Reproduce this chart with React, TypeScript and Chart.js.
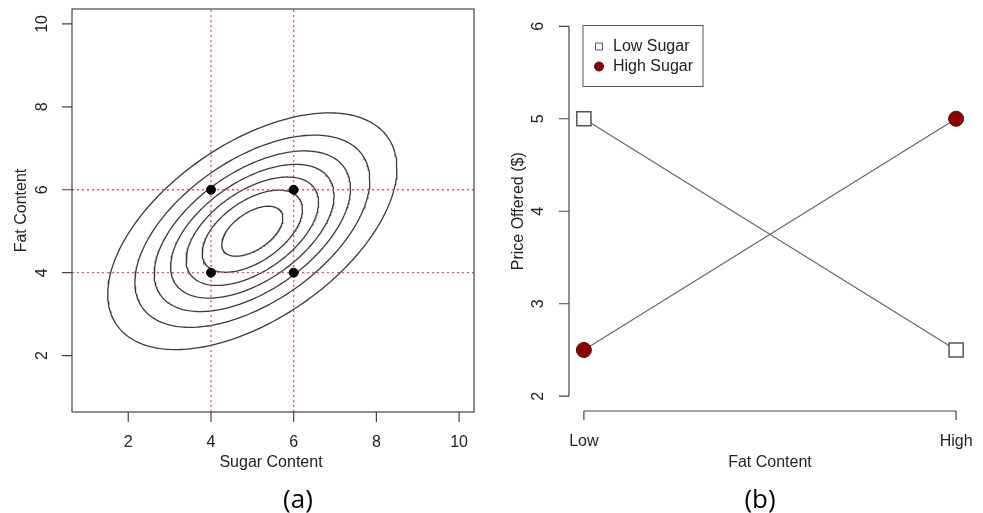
import React, { useEffect, useRef } from "react";
import { Chart, registerables } from "chart.js";
Chart.register(...registerables);

// ---------- Panel (a): density contours ----------
const sugarTicks = [2, 4, 6, 8, 10];
const fatTicks = [2, 4, 6, 8, 10];
const axisRangeA = [0.64, 10.36];
const densityMean = [5, 5];
const densityCov = [3, 1.3, 2]; // var(sugar), cov, var(fat)
const contourLevels = [0.01, 0.02, 0.03, 0.04, 0.05, 0.06, 0.07];
const designSugar = [4, 6, 4, 6];
const designFat = [6, 6, 4, 4];
const refSugar = [4, 6];
const refFat = [4, 6];

// ---------- Panel (b): interaction plot ----------
const fatLevels = ["Low", "High"];
const lowSugarPrice = [5, 2.5];
const highSugarPrice = [2.5, 5];
const priceTicks = [2, 3, 4, 5, 6];
const priceRange = [1.84, 6.16];
const fatRange = [0.96, 2.04];
const seriesNames = ["Low Sugar", "High Sugar"];

const FONT = '"Liberation Sans", Arial, sans-serif';
const TEXT = "#222";
const AXIS = "#444";

function contour(level: number) {
  const [vx, cxy, vy] = densityCov;
  const det = vx * vy - cxy * cxy;
  const peak = 1 / (2 * Math.PI * Math.sqrt(det));
  const c = Math.sqrt(-2 * Math.log(level / peak));
  const a11 = Math.sqrt(vx);
  const a21 = cxy / a11;
  const a22 = Math.sqrt(vy - a21 * a21);
  const pts: { x: number; y: number }[] = [];
  const n = 240;
  for (let i = 0; i <= n; i++) {
    const t = (i / n) * 2 * Math.PI;
    pts.push({
      x: densityMean[0] + c * a11 * Math.cos(t),
      y: densityMean[1] + c * (a21 * Math.cos(t) + a22 * Math.sin(t)),
    });
  }
  return pts;
}

function vtext(ctx: CanvasRenderingContext2D, s: string, x: number, y: number) {
  ctx.save();
  ctx.translate(x, y);
  ctx.rotate(-Math.PI / 2);
  ctx.textAlign = "center";
  ctx.textBaseline = "middle";
  ctx.fillText(s, 0, 0);
  ctx.restore();
}

const axesA = {
  id: "axesA",
  afterDraw(chart: any) {
    const ctx: CanvasRenderingContext2D = chart.ctx;
    const { left, right, top, bottom } = chart.chartArea;
    const xs = chart.scales.x;
    const ys = chart.scales.y;
    ctx.save();
    ctx.strokeStyle = AXIS;
    ctx.lineWidth = 1.2;
    ctx.strokeRect(left, top, right - left, bottom - top);
    ctx.fillStyle = TEXT;
    ctx.font = "16px " + FONT;
    ctx.textAlign = "center";
    ctx.textBaseline = "middle";
    ctx.beginPath();
    sugarTicks.forEach((v) => {
      const px = xs.getPixelForValue(v);
      ctx.moveTo(px, bottom);
      ctx.lineTo(px, bottom + 10);
    });
    fatTicks.forEach((v) => {
      const py = ys.getPixelForValue(v);
      ctx.moveTo(left, py);
      ctx.lineTo(left - 10, py);
    });
    ctx.stroke();
    sugarTicks.forEach((v) => ctx.fillText(String(v), xs.getPixelForValue(v), bottom + 31));
    fatTicks.forEach((v) => vtext(ctx, String(v), left - 29, ys.getPixelForValue(v)));
    ctx.fillText("Sugar Content", (left + right) / 2 - 2, bottom + 51);
    vtext(ctx, "Fat Content", left - 50, (top + bottom) / 2);
    ctx.font = '26px "Open Sans", sans-serif';
    ctx.textBaseline = "alphabetic";
    ctx.fillStyle = "#000";
    ctx.fillText("(a)", 298, 508);
    ctx.restore();
  },
};

const axesB = {
  id: "axesB",
  afterDraw(chart: any) {
    const ctx: CanvasRenderingContext2D = chart.ctx;
    const { left, top, bottom } = chart.chartArea;
    const xs = chart.scales.x;
    const ys = chart.scales.y;
    ctx.save();
    ctx.strokeStyle = AXIS;
    ctx.lineWidth = 1.2;
    const y0 = ys.getPixelForValue(priceTicks[0]);
    const y1 = ys.getPixelForValue(priceTicks[priceTicks.length - 1]);
    const x0 = xs.getPixelForValue(1);
    const x1 = xs.getPixelForValue(fatLevels.length);
    ctx.beginPath();
    ctx.moveTo(left, y1);
    ctx.lineTo(left, y0);
    priceTicks.forEach((v) => {
      const py = ys.getPixelForValue(v);
      ctx.moveTo(left, py);
      ctx.lineTo(left - 10, py);
    });
    ctx.moveTo(x0, bottom);
    ctx.lineTo(x1, bottom);
    fatLevels.forEach((_, i) => {
      const px = xs.getPixelForValue(i + 1);
      ctx.moveTo(px, bottom);
      ctx.lineTo(px, bottom + 9);
    });
    ctx.stroke();
    ctx.fillStyle = TEXT;
    ctx.font = "16px " + FONT;
    ctx.textAlign = "center";
    ctx.textBaseline = "middle";
    priceTicks.forEach((v) => vtext(ctx, String(v), left - 30, ys.getPixelForValue(v)));
    fatLevels.forEach((s, i) => ctx.fillText(s, xs.getPixelForValue(i + 1), bottom + 31));
    ctx.fillText("Fat Content", (x0 + x1) / 2, bottom + 52);
    vtext(ctx, "Price Offered ($)", left - 50, (top + bottom) / 2);

    // legend
    const bx = left + 14;
    const by = top + 14;
    ctx.strokeStyle = "#555";
    ctx.lineWidth = 1;
    ctx.strokeRect(bx, by, 120, 61);
    const ds = chart.data.datasets;
    ctx.textAlign = "left";
    ds.forEach((d: any, i: number) => {
      const cy = by + 21 + i * 20;
      const cx = bx + 16;
      ctx.beginPath();
      if (d.pointStyle === "rect") {
        ctx.fillStyle = "#fff";
        ctx.strokeStyle = "#555";
        ctx.rect(cx - 3.5, cy - 3.5, 7, 7);
      } else {
        ctx.fillStyle = d.pointBackgroundColor;
        ctx.strokeStyle = d.pointBorderColor;
        ctx.arc(cx, cy, 4.5, 0, Math.PI * 2);
      }
      ctx.fill();
      ctx.stroke();
      ctx.fillStyle = TEXT;
      ctx.fillText(d.label, bx + 30, cy);
    });

    ctx.font = '26px "Open Sans", sans-serif';
    ctx.textAlign = "center";
    ctx.textBaseline = "alphabetic";
    ctx.fillStyle = "#000";
    ctx.fillText("(b)", 270, 508);
    ctx.restore();
  },
};

function PanelA() {
  const ref = useRef<HTMLCanvasElement>(null);
  useEffect(() => {
    // Chart.js paints dataset 0 last (on top), so the design points come first.
    const datasets: any[] = [
      {
        label: "design",
        data: designSugar.map((s, i) => ({ x: s, y: designFat[i] })),
        showLine: false,
        pointRadius: 4.5,
        pointBackgroundColor: "#000",
        pointBorderColor: "#000",
        pointBorderWidth: 1,
      },
    ];
    refSugar.forEach((v) =>
      datasets.push({
        label: "ref x " + v,
        data: [
          { x: v, y: axisRangeA[0] },
          { x: v, y: axisRangeA[1] },
        ],
        showLine: true,
        pointRadius: 0,
        borderColor: "#f05555",
        borderWidth: 1.3,
        borderDash: [2, 3],
      })
    );
    refFat.forEach((v) =>
      datasets.push({
        label: "ref y " + v,
        data: [
          { x: axisRangeA[0], y: v },
          { x: axisRangeA[1], y: v },
        ],
        showLine: true,
        pointRadius: 0,
        borderColor: "#f05555",
        borderWidth: 1.3,
        borderDash: [2, 3],
      })
    );
    contourLevels.forEach((lv) =>
      datasets.push({
        label: "level " + lv,
        data: contour(lv),
        showLine: true,
        pointRadius: 0,
        borderColor: "#3a3a3a",
        borderWidth: 1.3,
        fill: false,
      })
    );
    const chart = new Chart(ref.current!, {
      type: "scatter",
      data: { datasets },
      options: {
        animation: false,
        responsive: false,
        devicePixelRatio: 1,
        events: [],
        layout: { padding: { left: 72, right: 16, top: 9, bottom: 101 } },
        scales: {
          x: { type: "linear", min: axisRangeA[0], max: axisRangeA[1], display: false },
          y: { type: "linear", min: axisRangeA[0], max: axisRangeA[1], display: false },
        },
        plugins: { legend: { display: false }, tooltip: { enabled: false } },
      },
      plugins: [axesA],
    });
    return () => chart.destroy();
  }, []);
  return (
    <div style={{ position: "absolute", left: 0, top: 0, width: 490, height: 513 }}>
      <canvas ref={ref} width={490} height={513} />
    </div>
  );
}

function PanelB() {
  const ref = useRef<HTMLCanvasElement>(null);
  useEffect(() => {
    const chart = new Chart(ref.current!, {
      type: "scatter",
      data: {
        datasets: [
          {
            label: seriesNames[0],
            data: lowSugarPrice.map((p, i) => ({ x: i + 1, y: p })),
            showLine: true,
            borderColor: "#6a6a6a",
            borderWidth: 1.3,
            pointStyle: "rect",
            pointRadius: 10,
            pointBackgroundColor: "#fff",
            pointBorderColor: "#555",
            pointBorderWidth: 1.5,
            clip: false,
          },
          {
            label: seriesNames[1],
            data: highSugarPrice.map((p, i) => ({ x: i + 1, y: p })),
            showLine: true,
            borderColor: "#6a6a6a",
            borderWidth: 1.3,
            pointStyle: "circle",
            pointRadius: 7.5,
            pointBackgroundColor: "#8b0000",
            pointBorderColor: "#5a0a0a",
            pointBorderWidth: 1,
            clip: false,
          },
        ] as any,
      },
      options: {
        animation: false,
        responsive: false,
        devicePixelRatio: 1,
        events: [],
        layout: { padding: { left: 79, right: 12, top: 9, bottom: 102 } },
        scales: {
          x: { type: "linear", min: fatRange[0], max: fatRange[1], display: false },
          y: { type: "linear", min: priceRange[0], max: priceRange[1], display: false },
        },
        plugins: { legend: { display: false }, tooltip: { enabled: false } },
      },
      plugins: [axesB],
    });
    return () => chart.destroy();
  }, []);
  return (
    <div style={{ position: "absolute", left: 490, top: 0, width: 493, height: 513 }}>
      <canvas ref={ref} width={493} height={513} />
    </div>
  );
}

export default function App() {
  return (
    <div style={{ position: "absolute", left: 0, top: 0, width: 983, height: 513, background: "#fff", overflow: "hidden" }}>
      <PanelA />
      <PanelB />
    </div>
  );
}
